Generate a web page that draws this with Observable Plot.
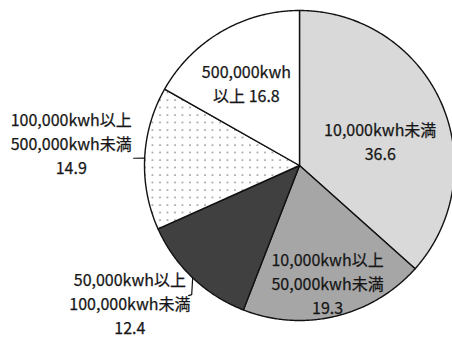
<!DOCTYPE html>
<html>
<head>
<meta charset="utf-8">
<script src="https://cdn.jsdelivr.net/npm/d3@7"></script>
<script src="https://cdn.jsdelivr.net/npm/@observablehq/plot@0.6"></script>
<style>
  html, body { margin: 0; padding: 0; background: #fff; }
</style>
</head>
<body>
<div id="chart"></div>
<script>
// Share of facilities by annual electricity use (%)
const categories = [
  "10,000kwh未満",
  "10,000kwh以上\n50,000kwh未満",
  "50,000kwh以上\n100,000kwh未満",
  "100,000kwh以上\n500,000kwh未満",
  "500,000kwh\n以上"
];
const shares = [36.6, 19.3, 12.4, 14.9, 16.8];
// how the value joins its category text in each label
const valueSeparators = ["\n", "\n", "\n", "\n", " "];

// slice fills, clockwise from 12 o'clock
const sliceFills = ["#d9d9d9", "#a6a6a6", "#404040", "url(#dots)", "#ffffff"];

// label placement: radius (in pie radii) and turn (degrees) from the slice's mid-angle
const labelRadius = [0.545, 0.775, 1.405, 1.48, 0.635];
const labelTurn = [7, 0, 7.6, 3, -2.4];

// leader lines for the outside labels: [radius, turn in degrees] from the mid-angle
const leaders = [
  { slice: 2, path: [[1, 0], [1.085, -3.7], [1.103, -3.1]] },
  { slice: 3, path: [[1, 0], [1.071, -0.2]] }
];

const cx = 299, cy = 165, R = 155;
const deg = Math.PI / 180;
const polar = (r, a) => ({ x: r * Math.sin(a), y: r * Math.cos(a) });

const arcs = d3.pie().sort(null).value(d => d)(shares);
const mid = a => (a.startAngle + a.endAngle) / 2;

// each wedge as a closed polygon: centre → arc → centre
const wedgePoints = arcs.flatMap((a, i) => {
  const n = Math.max(2, Math.ceil((a.endAngle - a.startAngle) / (0.5 * deg)));
  const pts = [{ slice: i, x: 0, y: 0 }];
  for (let k = 0; k <= n; k++) {
    pts.push({ slice: i, ...polar(1, a.startAngle + (a.endAngle - a.startAngle) * k / n) });
  }
  pts.push({ slice: i, x: 0, y: 0 });
  return pts;
});

const labelData = arcs.map((a, i) => ({
  ...polar(labelRadius[i], mid(a) + labelTurn[i] * deg),
  text: categories[i] + valueSeparators[i] + shares[i].toFixed(1)
}));

const leaderPoints = leaders.flatMap((l, j) =>
  l.path.map(([r, t]) => ({ id: j, ...polar(r, mid(arcs[l.slice]) + t * deg) }))
);

// dotted fill used by one slice
const dotPattern = () => {
  const defs = d3.create("svg:defs");
  const p = defs.append("pattern")
    .attr("id", "dots")
    .attr("patternUnits", "userSpaceOnUse")
    .attr("width", 7.5)
    .attr("height", 7.5);
  p.append("rect").attr("width", 7.5).attr("height", 7.5).attr("fill", "#fff");
  p.append("circle").attr("cx", 2).attr("cy", 2).attr("r", 0.9).attr("fill", "#8c8c8c");
  return defs.node();
};

const chart = Plot.plot({
  width: 452,
  height: 338,
  margin: 0,
  style: { fontFamily: "'Noto Sans CJK JP', 'Noto Sans', sans-serif", background: "#fff" },
  x: { domain: [-1, 1], range: [cx - R, cx + R], axis: null },
  y: { domain: [-1, 1], range: [cy + R, cy - R], axis: null },
  color: { type: "ordinal", domain: d3.range(shares.length), range: sliceFills },
  marks: [
    dotPattern,
    Plot.line(wedgePoints, {
      x: "x", y: "y", z: "slice", fill: "slice",
      stroke: "#111", strokeWidth: 1.4, strokeLinejoin: "round"
    }),
    Plot.line(leaderPoints, { x: "x", y: "y", z: "id", stroke: "#111", strokeWidth: 1.2 }),
    Plot.text(labelData, {
      x: "x", y: "y", text: "text",
      fontSize: 16, lineHeight: 1.5, lineAnchor: "middle", textAnchor: "middle",
      fill: "#161616", stroke: "#161616", strokeWidth: 0.25
    })
  ]
});

document.getElementById("chart").append(chart);
</script>
</body>
</html>
